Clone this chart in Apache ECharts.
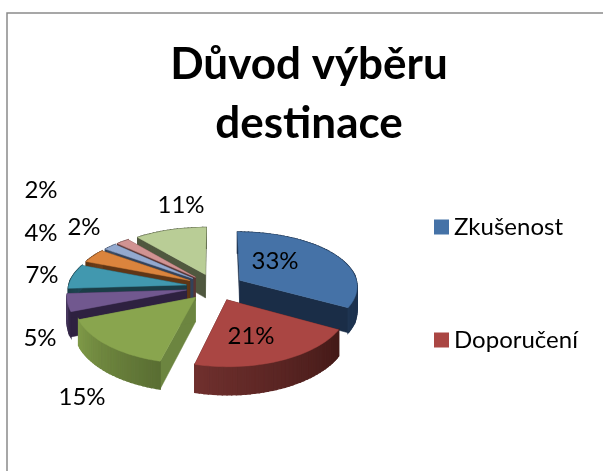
<!DOCTYPE html>
<html>
<head>
<meta charset="utf-8">
<style>html,body{margin:0;padding:0;background:#fff}#c{width:603px;height:471px}</style>
<script src="https://cdn.jsdelivr.net/npm/echarts@6/dist/echarts.min.js"></script>
</head>
<body>
<div id="c"></div>
<script>
const titleText = 'Důvod výběru\ndestinace';
const categories = ['Zkušenost', 'Doporučení', 'Položka 3', 'Položka 4', 'Položka 5', 'Položka 6', 'Položka 7', 'Položka 8', 'Položka 9'];
const values = [33, 21, 15, 5, 7, 4, 2, 2, 11];
const legendNames = ['Zkušenost', 'Doporučení'];
const topColors = ['#4572A7', '#AA4643', '#89A54E', '#71588F', '#4198AF', '#DB843D', '#93A9CF', '#D19392', '#B9CD96'];
const sideLight = ['#1d3350', '#70302e', '#7f9a48', '#4c3b63', '#1d4654', '#6e3f1a', '#3f5069', '#6d4544', '#50583f'];
const sideDark  = ['#1a2d47', '#441a18', '#5a6e33', '#2e2140', '#1b3d47', '#5f3616', '#33425a', '#5a3635', '#50583f'];
const cutColors = ['#1a2d47', '#441a18', '#6c8540', '#2e2140', '#1b3d47', '#5f3616', '#33425a', '#5a3635', '#50583f'];
const labelAnchors = [[275, 261], [251, 336], [82, 397], [40, 338], [42, 275], [41, 233], [84, 227], [41, 190], [181, 205]];

const CX = 215, CY = 287, R = 118, K = 0.47, PX = 0.10, PY = 0.12, EXPLODE = 29, DEPTH = 24;
const total = values.reduce((a, b) => a + b, 0);
const starts = [];
values.reduce((acc, v, i) => { starts[i] = acc; return acc + v; }, 0);

function project(X, Y, drop) {
  const sx = 1 / (1 - PX * Y / R);
  const sy = 1 / (1 - PY * Y / R);
  return [CX + X * sx, CY + Y * K * sy + (drop ? DEPTH * sy : 0)];
}
function hexMix(a, b, t) {
  const pa = parseInt(a.slice(1), 16), pb = parseInt(b.slice(1), 16);
  const ch = sh => Math.round(((pa >> sh) & 255) * (1 - t) + ((pb >> sh) & 255) * t);
  return 'rgb(' + ch(16) + ',' + ch(8) + ',' + ch(0) + ')';
}
function poly(points, fill, z2, lw) {
  return { type: 'polygon', shape: { points }, z2,
    style: { fill, stroke: fill, lineWidth: lw } };
}
function sliceItem(i, share) {
  const a0 = starts[i] / total * 2 * Math.PI;
  const a1 = a0 + share / total * 2 * Math.PI;
  const mid = (a0 + a1) / 2;
  const ox = EXPLODE * Math.sin(mid), oy = -EXPLODE * Math.cos(mid);
  const rim = t => [ox + R * Math.sin(t), oy - R * Math.cos(t)];
  const steps = Math.max(3, Math.ceil((a1 - a0) / (Math.PI / 90)));
  const children = [];
  const apex = [ox, oy];
  const wall = (p, q, fill, z2, lw) => poly([
    project(p[0], p[1]), project(q[0], q[1]), project(q[0], q[1], true), project(p[0], p[1], true)
  ], fill, z2, lw);
  children.push(wall(apex, rim(a0), cutColors[i], 1, 0.5));
  children.push(wall(apex, rim(a1), cutColors[i], 1, 0.5));
  const top = [project(apex[0], apex[1])];
  for (let s = 0; s <= steps; s++) {
    const t = a0 + (a1 - a0) * s / steps;
    const r = rim(t);
    top.push(project(r[0], r[1]));
    if (s < steps) {
      const r2 = rim(a0 + (a1 - a0) * (s + 1) / steps);
      children.push(wall(r, r2, hexMix(sideDark[i], sideLight[i], s / steps), 2, 1.4));
    }
  }
  children.push(poly(top, topColors[i], 5, 0.5));
  return { type: 'group', children };
}
const drawRank = values.map((_, i) => {
  const mid = (starts[i] + values[i] / 2) / total * 2 * Math.PI;
  return -Math.cos(mid);
});
const series = values.map((v, i) => ({
  type: 'custom',
  name: categories[i],
  coordinateSystem: 'none',
  silent: true,
  animation: false,
  z: 10 + drawRank[i] * 5,
  itemStyle: { color: topColors[i] },
  data: [[v]],
  renderItem: (params, api) => sliceItem(i, api.value(0))
}));
series.push({
  type: 'custom',
  name: 'popisky',
  coordinateSystem: 'none',
  silent: true,
  animation: false,
  z: 30,
  data: values.map(v => [v]),
  renderItem: (params, api) => ({
    type: 'text',
    style: {
      x: labelAnchors[params.dataIndex][0],
      y: labelAnchors[params.dataIndex][1],
      text: Math.round(api.value(0) / total * 100) + '%',
      fill: '#000',
      font: '24px Lato, Carlito, sans-serif',
      align: 'center',
      verticalAlign: 'middle'
    }
  })
});

const chart = echarts.init(document.getElementById('c'), null, { renderer: 'canvas' });
chart.setOption({
  animation: false,
  backgroundColor: '#fff',
  title: {
    text: titleText,
    left: 304,
    top: 30,
    textAlign: 'center',
    textStyle: { fontFamily: 'Lato, Carlito, sans-serif', fontSize: 44, fontWeight: 'bold', color: '#000', lineHeight: 59 }
  },
  legend: {
    data: legendNames,
    orient: 'vertical',
    left: 429,
    top: 210,
    icon: 'rect',
    itemWidth: 15,
    itemHeight: 15,
    itemGap: 89,
    selectedMode: false,
    textStyle: { fontFamily: 'Lato, Carlito, sans-serif', fontSize: 24, color: '#000' }
  },
  graphic: [{
    type: 'polyline',
    silent: true,
    shape: { points: [[7, 471], [7, 13], [603, 13]] },
    style: { stroke: '#8a8a8a', lineWidth: 1.5, fill: 'none' }
  }],
  series
});
</script>
</body>
</html>
